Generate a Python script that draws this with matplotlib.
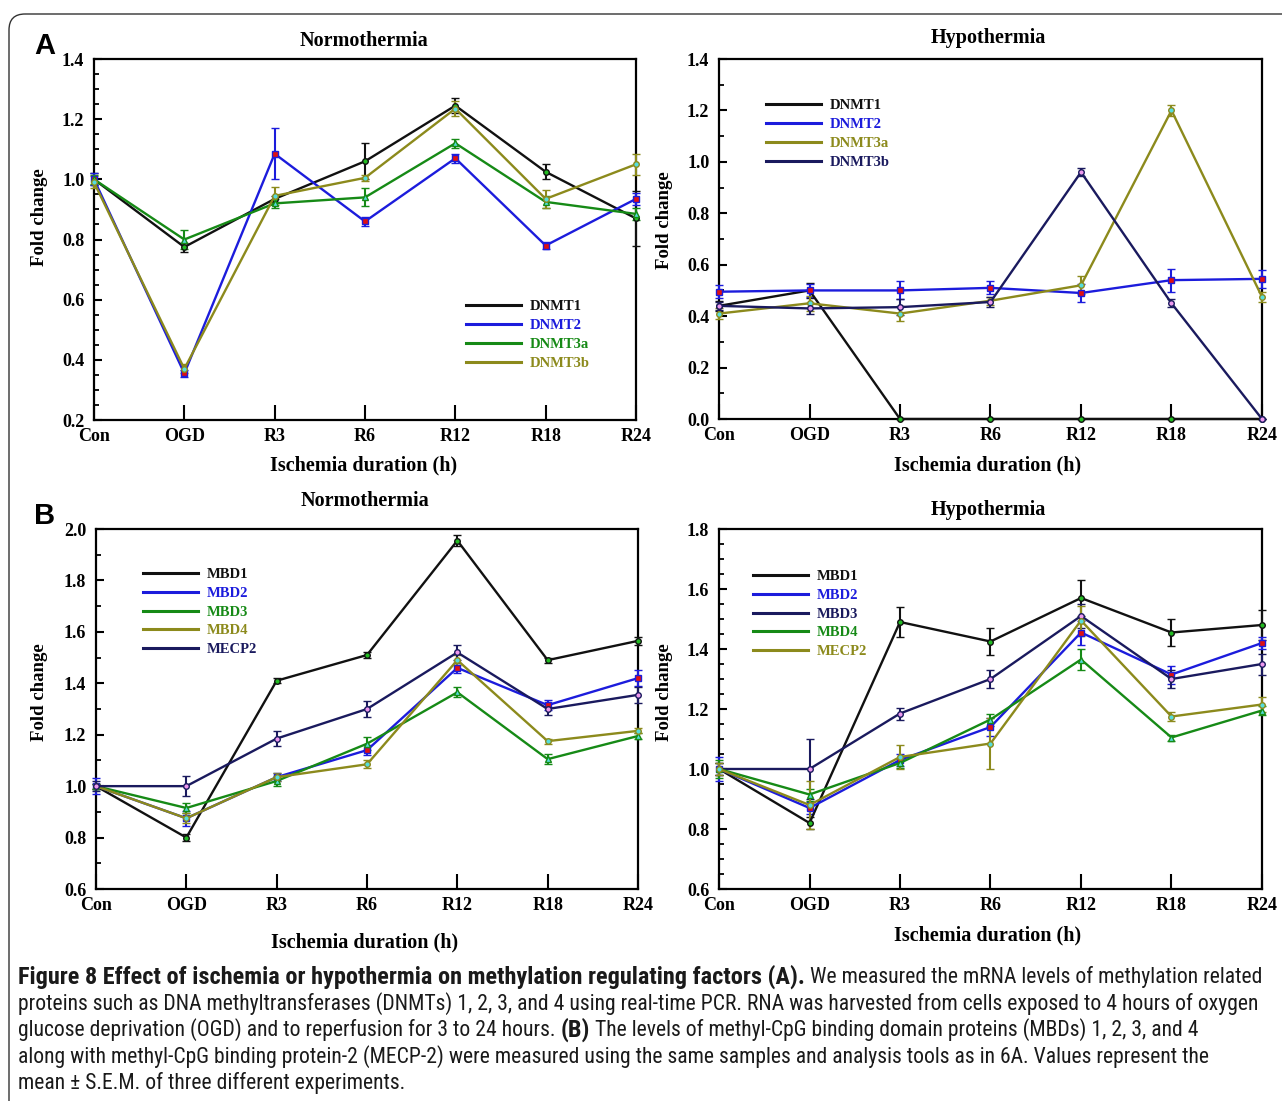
import numpy as np
import matplotlib
matplotlib.use("Agg")
import matplotlib.pyplot as plt
from matplotlib import font_manager
from matplotlib.lines import Line2D
from matplotlib.patches import FancyBboxPatch
from matplotlib.ticker import MultipleLocator

plt.rcParams["font.family"] = ["Liberation Serif", "DejaVu Serif"]
plt.rcParams["font.weight"] = "bold"

W, H = 1282, 1101

cats = ["Con", "OGD", "R3", "R6", "R12", "R18", "R24"]

# --- Panel A, normothermia (DNMTs) ---
a_norm_names = ["DNMT1", "DNMT2", "DNMT3a", "DNMT3b"]
a_norm_vals = [
    [1.00, 0.775, 0.935, 1.06, 1.245, 1.025, 0.87],
    [1.00, 0.355, 1.085, 0.86, 1.07, 0.78, 0.935],
    [1.00, 0.80, 0.92, 0.94, 1.12, 0.925, 0.885],
    [0.99, 0.37, 0.945, 1.005, 1.235, 0.935, 1.05],
]
a_norm_err = [
    [0.02, 0.015, 0.01, 0.06, 0.025, 0.025, 0.09],
    [0.02, 0.012, 0.085, 0.015, 0.015, 0.012, 0.02],
    [0.015, 0.03, 0.015, 0.03, 0.015, 0.02, 0.02],
    [0.02, 0.015, 0.03, 0.01, 0.025, 0.03, 0.035],
]
a_norm_roles = ["black", "blue", "green", "olive"]

# --- Panel A, hypothermia (DNMTs) ---
a_hypo_names = ["DNMT1", "DNMT2", "DNMT3a", "DNMT3b"]
a_hypo_vals = [
    [0.44, 0.50, 0.0, 0.0, 0.0, 0.0, 0.0],
    [0.495, 0.50, 0.50, 0.51, 0.49, 0.54, 0.545],
    [0.41, 0.45, 0.41, 0.46, 0.52, 1.20, 0.475],
    [0.44, 0.43, 0.435, 0.455, 0.96, 0.45, 0.0],
]
a_hypo_err = [
    [0.02, 0.03, 0.0, 0.0, 0.0, 0.0, 0.0],
    [0.025, 0.025, 0.035, 0.025, 0.035, 0.045, 0.035],
    [0.02, 0.03, 0.03, 0.015, 0.035, 0.02, 0.02],
    [0.015, 0.02, 0.03, 0.02, 0.015, 0.015, 0.0],
]
a_hypo_roles = ["black", "blue", "olive", "navy"]

# --- Panel B, normothermia (MBDs) ---
b_norm_names = ["MBD1", "MBD2", "MBD3", "MBD4", "MECP2"]
b_norm_vals = [
    [1.00, 0.80, 1.41, 1.51, 1.955, 1.49, 1.565],
    [1.00, 0.875, 1.035, 1.14, 1.46, 1.315, 1.42],
    [1.00, 0.915, 1.02, 1.165, 1.365, 1.105, 1.195],
    [1.00, 0.875, 1.035, 1.085, 1.49, 1.175, 1.215],
    [1.00, 1.00, 1.185, 1.30, 1.52, 1.30, 1.355],
]
b_norm_err = [
    [0.01, 0.015, 0.01, 0.01, 0.02, 0.01, 0.015],
    [0.03, 0.03, 0.015, 0.02, 0.02, 0.02, 0.03],
    [0.01, 0.02, 0.02, 0.025, 0.02, 0.02, 0.01],
    [0.01, 0.02, 0.015, 0.015, 0.02, 0.01, 0.01],
    [0.02, 0.04, 0.03, 0.03, 0.03, 0.025, 0.03],
]
b_norm_roles = ["black", "blue", "green", "olive", "navy"]

# --- Panel B, hypothermia (MBDs) ---
b_hypo_names = ["MBD1", "MBD2", "MBD3", "MBD4", "MECP2"]
b_hypo_vals = [
    [1.00, 0.82, 1.49, 1.425, 1.57, 1.455, 1.48],
    [1.00, 0.87, 1.03, 1.14, 1.455, 1.315, 1.42],
    [1.00, 1.00, 1.185, 1.30, 1.51, 1.30, 1.35],
    [1.00, 0.915, 1.02, 1.165, 1.365, 1.105, 1.195],
    [1.00, 0.88, 1.04, 1.085, 1.495, 1.175, 1.215],
]
b_hypo_err = [
    [0.02, 0.02, 0.05, 0.045, 0.06, 0.045, 0.05],
    [0.04, 0.02, 0.02, 0.03, 0.04, 0.03, 0.02],
    [0.02, 0.10, 0.02, 0.03, 0.04, 0.03, 0.035],
    [0.03, 0.02, 0.015, 0.02, 0.035, 0.01, 0.015],
    [0.02, 0.08, 0.04, 0.085, 0.05, 0.015, 0.025],
]
b_hypo_roles = ["black", "blue", "navy", "green", "olive"]

caption_lines = [
    [("Figure 8 Effect of ischemia or hypothermia on methylation regulating factors (A).", True),
     (" We measured the mRNA levels of methylation related", False)],
    [("proteins such as DNA methyltransferases (DNMTs) 1, 2, 3, and 4 using real-time PCR. RNA was harvested from cells exposed to 4 hours of oxygen", False)],
    [("glucose deprivation (OGD) and to reperfusion for 3 to 24 hours. ", False), ("(B)", True),
     (" The levels of methyl-CpG binding domain proteins (MBDs) 1, 2, 3, and 4", False)],
    [("along with methyl-CpG binding protein-2 (MECP-2) were measured using the same samples and analysis tools as in 6A. Values represent the", False)],
    [("mean \u00b1 S.E.M. of three different experiments.", False)],
]

STYLE = {
    "black": dict(color="#111111", marker="o", mfc="#22bb22"),
    "blue": dict(color="#1c1cdc", marker="s", mfc="#e01010"),
    "green": dict(color="#168a16", marker="^", mfc="#55dddd"),
    "olive": dict(color="#8c8a1c", marker="o", mfc="#55dddd"),
    "navy": dict(color="#1a1a5e", marker="o", mfc="#ee99ee"),
}

fig = plt.figure(figsize=(W / 100, H / 100), dpi=100)


def fx(px):
    return px / W


def fy(py):
    return 1 - py / H


def add_panel(box, names, vals, errs, roles, ylim, minor, title, title_xy,
              xlabel_xy, ylabel_xy, leg_xy):
    x0, y0, x1, y1 = box
    ax = fig.add_axes([fx(x0), fy(y1), (x1 - x0) / W, (y1 - y0) / H])
    x = np.arange(len(cats))
    handles = []
    for name, v, e, r in zip(names, vals, errs, roles):
        st = STYLE[r]
        ax.errorbar(x, v, yerr=e, color=st["color"], lw=1.7, elinewidth=1.5,
                    capsize=3, capthick=1.5, marker=st["marker"], ms=4,
                    mfc=st["mfc"], mec=st["color"], mew=1.0,
                    clip_on=False, zorder=3)
        handles.append(Line2D([], [], color=st["color"], lw=2.2, label=name))
    ax.set_xlim(0, len(cats) - 1)
    ax.set_ylim(*ylim)
    ax.set_xticks(x)
    ax.set_xticklabels(cats)
    ax.yaxis.set_major_locator(MultipleLocator(0.2))
    ax.yaxis.set_minor_locator(MultipleLocator(minor))
    ax.yaxis.set_major_formatter(plt.FuncFormatter(lambda v, p: f"{v:.1f}"))
    ax.tick_params(axis="x", direction="in", length=11, width=1.5,
                   labelsize=13, pad=6)
    ax.tick_params(axis="y", which="major", direction="in", length=6,
                   width=1.5, labelsize=13, pad=7)
    ax.tick_params(axis="y", which="minor", direction="in", length=3.5,
                   width=1.3)
    for s in ax.spines.values():
        s.set_linewidth(1.6)
    fig.text(fx(title_xy[0]), fy(title_xy[1]), title, ha="center",
             va="center", fontsize=14.5)
    fig.text(fx(xlabel_xy[0]), fy(xlabel_xy[1]), "Ischemia duration (h)",
             ha="center", va="center", fontsize=14.5)
    fig.text(fx(ylabel_xy[0]), fy(ylabel_xy[1]), "Fold change", ha="center",
             va="center", rotation=90, fontsize=13.5)
    leg = ax.legend(handles=handles, loc="center",
                    bbox_to_anchor=(fx(leg_xy[0]), fy(leg_xy[1])),
                    bbox_transform=fig.transFigure, frameon=False,
                    fontsize=10.5, handlelength=3.8, handletextpad=0.6,
                    labelspacing=0.38, borderpad=0)
    for txt, r in zip(leg.get_texts(), roles):
        txt.set_color(STYLE[r]["color"])
    return ax


add_panel((94, 59, 636, 420), a_norm_names, a_norm_vals, a_norm_err,
          a_norm_roles, (0.2, 1.4), 0.05, "Normothermia", (364, 41),
          (364, 465), (40, 217), (528, 335))
add_panel((719, 59, 1262, 419), a_hypo_names, a_hypo_vals, a_hypo_err,
          a_hypo_roles, (0.0, 1.4), 0.1, "Hypothermia", (988, 38),
          (988, 465), (664, 220), (828, 134))
add_panel((96, 529, 638, 889), b_norm_names, b_norm_vals, b_norm_err,
          b_norm_roles, (0.6, 2.0), 0.1, "Normothermia", (365, 501),
          (365, 942), (40, 692), (200, 612))
add_panel((719, 529, 1262, 889), b_hypo_names, b_hypo_vals, b_hypo_err,
          b_hypo_roles, (0.6, 1.8), 0.05, "Hypothermia", (988, 510),
          (988, 935), (664, 692), (810, 614))

sans = ["Liberation Sans", "DejaVu Sans"]
fig.text(fx(45), fy(46), "A", ha="center", va="center", fontsize=21,
         fontweight="bold", family=sans)
fig.text(fx(45), fy(516), "B", ha="center", va="center", fontsize=21,
         fontweight="bold", family=sans)

# outer rounded frame
frame = FancyBboxPatch((9, 14), 1400, 1200,
                       boxstyle="round,pad=0,rounding_size=16",
                       transform=None, fill=False,
                       edgecolor="#333333", lw=1.0, clip_on=False)
frame.set_transform(matplotlib.transforms.Affine2D().scale(1, -1).translate(0, H))
fig.patches.append(frame)

# caption: pick a narrow sans if one is installed, then fit to line width
installed = {f.name for f in font_manager.fontManager.ttflist}
cap_family = ["DejaVu Sans"]
cap_stretch = "normal"
for cand in ["Liberation Sans Narrow", "Roboto Condensed", "Open Sans Condensed",
             "Noto Sans Condensed", "DejaVu Sans Condensed"]:
    if cand in installed:
        cap_family = [cand, "DejaVu Sans"]
        break
else:
    if any(f.name == "DejaVu Sans" and f.stretch == "condensed"
           for f in font_manager.fontManager.ttflist):
        cap_stretch = "condensed"

renderer = fig.canvas.get_renderer()


def text_width(s, size, weight):
    t = fig.text(0, 0, s, fontsize=size, family=cap_family,
                 fontstretch=cap_stretch, fontweight=weight)
    w = t.get_window_extent(renderer).width
    t.remove()
    return w


reg_size = 12.6 * (1266 - 18) / text_width(caption_lines[1][0][0], 12.6, "normal")
bold_size = 12.6 * (803 - 18) / text_width(caption_lines[0][0][0], 12.6, "bold")
bold_size = min(bold_size, reg_size * 1.12)

line_y = [977, 1004, 1030, 1057, 1083]
for segs, yy in zip(caption_lines, line_y):
    xpos = 18
    for text, bold in segs:
        t = fig.text(fx(xpos), fy(yy), text, ha="left", va="center",
                     fontsize=bold_size if bold else reg_size,
                     family=cap_family, fontstretch=cap_stretch,
                     fontweight="bold" if bold else "normal",
                     color="#1a1a1a")
        xpos += t.get_window_extent(renderer).width

fig.savefig("out.png", dpi=100)
